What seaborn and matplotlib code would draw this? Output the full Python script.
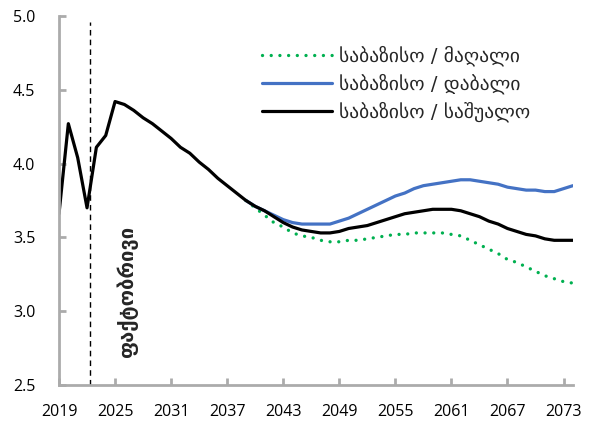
import numpy as np
import pandas as pd
import matplotlib
matplotlib.use("Agg")
import matplotlib.pyplot as plt
import seaborn as sns

years = list(range(2019, 2075))

# shared path (actual + common projection) up to 2039
common = [3.66, 4.27, 4.04, 3.70, 4.11, 4.19, 4.42, 4.40, 4.36, 4.31,
          4.27, 4.22, 4.17, 4.11, 4.07, 4.01, 3.96, 3.90, 3.85, 3.80, 3.75]

medium_tail = [3.71, 3.68, 3.64, 3.60, 3.57, 3.55, 3.54, 3.53, 3.53, 3.54,
               3.56, 3.57, 3.58, 3.60, 3.62, 3.64, 3.66, 3.67, 3.68, 3.69,
               3.69, 3.69, 3.68, 3.66, 3.64, 3.61, 3.59, 3.56, 3.54, 3.52,
               3.51, 3.49, 3.48, 3.48, 3.48]
low_tail = [3.71, 3.68, 3.65, 3.62, 3.60, 3.59, 3.59, 3.59, 3.59, 3.61,
            3.63, 3.66, 3.69, 3.72, 3.75, 3.78, 3.80, 3.83, 3.85, 3.86,
            3.87, 3.88, 3.89, 3.89, 3.88, 3.87, 3.86, 3.84, 3.83, 3.82,
            3.82, 3.81, 3.81, 3.83, 3.85]
high_tail = [3.70, 3.65, 3.60, 3.57, 3.53, 3.51, 3.50, 3.48, 3.47, 3.47,
             3.48, 3.48, 3.49, 3.50, 3.51, 3.52, 3.52, 3.53, 3.53, 3.53,
             3.53, 3.52, 3.51, 3.48, 3.45, 3.42, 3.39, 3.35, 3.33, 3.30,
             3.27, 3.24, 3.22, 3.20, 3.19]

labels = ["საბაზისო / მაღალი", "საბაზისო / დაბალი", "საბაზისო / საშუალო"]
actual_label = "ფაქტობრივი"
actual_end = 2022.3

split = 2039
proj_years = years[years.index(split):]
df_high = pd.DataFrame({"year": proj_years, "value": common[-1:] + high_tail})
df_low = pd.DataFrame({"year": proj_years, "value": common[-1:] + low_tail})
df_med = pd.DataFrame({"year": years, "value": common + medium_tail})

sns.set_style("white")
plt.rcParams["font.family"] = ["Open Sans", "DejaVu Sans"]

fig = plt.figure(figsize=(5.9, 4.3), dpi=100)
ax = fig.add_axes([0.1, 0.1047, 0.871, 0.8583])

sns.lineplot(data=df_high, x="year", y="value", ax=ax, color="#00B050",
             linewidth=2.4, linestyle=(0, (0.01, 2.6)), dash_capstyle="round",
             label=labels[0])
sns.lineplot(data=df_low, x="year", y="value", ax=ax, color="#4472C4",
             linewidth=2.3, label=labels[1])
sns.lineplot(data=df_med, x="year", y="value", ax=ax, color="black",
             linewidth=2.3, label=labels[2])

ax.plot([actual_end, actual_end], [2.5, 4.96], color="black", linewidth=1.0,
        linestyle=(0, (4, 3)))
ax.text(2026.3, 3.13, actual_label, rotation=90, ha="center", va="center",
        fontsize=14.5, fontweight="bold", family=["DejaVu Sans"])

ax.set_xlim(2019, 2074)
ax.set_ylim(2.5, 5.0)
ax.set_xticks(range(2019, 2075, 6))
ax.set_yticks(np.arange(2.5, 5.01, 0.5))
ax.yaxis.set_major_formatter(matplotlib.ticker.FormatStrFormatter("%.1f"))
ax.set_xlabel("")
ax.set_ylabel("")

# light grey axis lines with short inward ticks
axis_grey = "#ABABAB"
ax.spines["top"].set_visible(False)
ax.spines["right"].set_visible(False)
ax.spines["left"].set_color(axis_grey)
ax.spines["bottom"].set_color(axis_grey)
ax.spines["left"].set_linewidth(2.0)
ax.spines["bottom"].set_linewidth(2.0)
ax.tick_params(axis="both", direction="in", length=5, width=2.0,
               color=axis_grey, labelsize=11.5, labelcolor="black",
               left=True, bottom=True)
ax.tick_params(axis="y", pad=17)
ax.tick_params(axis="x", pad=14)

leg = ax.legend(loc="upper right", bbox_to_anchor=(0.952, 0.967), frameon=False,
                handlelength=3.6, labelspacing=0.38, handletextpad=0.4,
                prop={"family": ["DejaVu Sans"], "size": 14})

fig.savefig("out.png", dpi=100)
